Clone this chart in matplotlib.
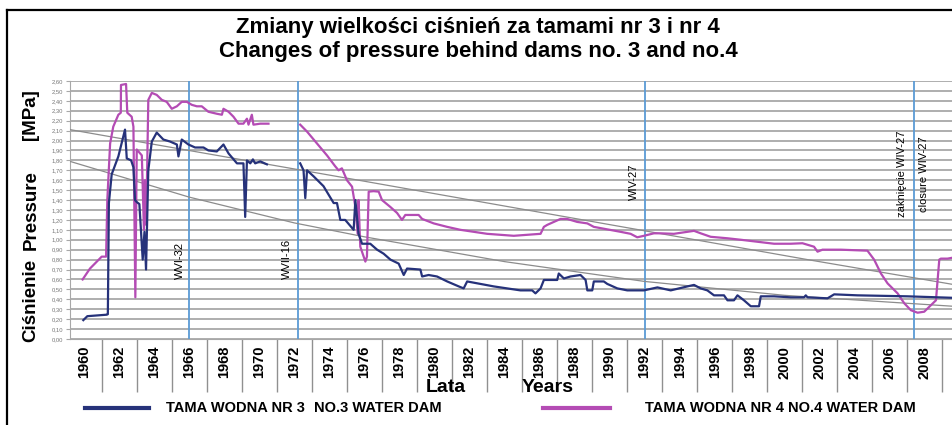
import numpy as np
import matplotlib
matplotlib.use('Agg')
import matplotlib.pyplot as plt
from matplotlib.lines import Line2D

plt.rcParams['font.family'] = ['Liberation Sans', 'DejaVu Sans']

# Tama nr 3 (granatowa) - rok, MPa
dam3_years = [1959.96, 1960.19, 1961.30, 1961.36, 1961.42, 1961.58, 1961.96, 1962.34, 1962.44, 1962.69,
              1962.82, 1962.91, 1963.01, 1963.16, 1963.35, 1963.45, 1963.54, 1963.67, 1963.87, 1964.15,
              1964.53, 1964.91, 1965.30, 1965.39, 1965.58, 1965.96, 1966.34, 1966.82, 1967.10, 1967.58,
              1967.96, 1968.25, 1968.73, 1969.10, 1969.20, 1969.30, 1969.49, 1969.64, 1969.77, 1970.06,
              1970.44,
              1971.4,
              1972.34, 1972.53, 1972.63, 1972.73, 1973.10, 1973.67, 1974.25, 1974.44, 1974.63, 1974.91,
              1975.20, 1975.39, 1975.49, 1975.67, 1975.87, 1976.34, 1976.73, 1977.10, 1977.49, 1977.96,
              1978.25, 1978.44, 1979.20, 1979.30, 1979.67, 1980.15, 1980.73, 1981.39, 1981.67, 1981.87,
              1982.63, 1983.39, 1984.15, 1984.91, 1985.58, 1985.77, 1986.06, 1986.25, 1987.01, 1987.10,
              1987.39, 1987.77, 1988.34, 1988.63, 1988.73, 1989.01, 1989.10, 1989.67, 1989.87, 1990.44,
              1991.01, 1991.96, 1992.73, 1993.49, 1994.44, 1994.82, 1995.20, 1995.58, 1995.96, 1996.53,
              1996.73, 1997.10, 1997.30, 1997.67, 1998.06, 1998.53, 1998.63, 1999.39, 2000.34, 2001.10,
              2001.20, 2001.30, 2002.44, 2002.82, 2004.15, 2007.01, 2009.60]
dam3_values = [0.19, 0.23, 0.245, 0.25, 1.37, 1.66, 1.84, 2.11, 1.82, 1.80,
               1.73, 1.40, 1.38, 1.36, 0.80, 1.08, 0.70, 1.70, 1.99, 2.08,
               2.01, 1.99, 1.96, 1.84, 2.01, 1.96, 1.93, 1.93, 1.90, 1.89,
               1.96, 1.87, 1.77, 1.77, 1.23, 1.80, 1.77, 1.81, 1.77, 1.79,
               1.76,
               np.nan,
               1.77, 1.70, 1.42, 1.70, 1.64, 1.54, 1.37, 1.37, 1.20, 1.20,
               1.14, 1.10, 1.40, 1.06, 0.96, 0.96, 0.90, 0.86, 0.80, 0.76,
               0.645, 0.71, 0.70, 0.63, 0.645, 0.63, 0.58, 0.53, 0.51, 0.58,
               0.555, 0.53, 0.51, 0.49, 0.49, 0.46, 0.51, 0.595, 0.595, 0.66,
               0.61, 0.63, 0.645, 0.595, 0.49, 0.49, 0.58, 0.58, 0.555, 0.51,
               0.49, 0.49, 0.52, 0.49, 0.53, 0.545, 0.51, 0.49, 0.44, 0.44,
               0.39, 0.39, 0.44, 0.39, 0.33, 0.33, 0.43, 0.43, 0.42, 0.42,
               0.44, 0.42, 0.41, 0.45, 0.44, 0.43, 0.415]

# Tama nr 4 (fioletowa)
dam4_years = [1959.92, 1960.34, 1960.73, 1961.01, 1961.26, 1961.33, 1961.49, 1961.67, 1961.96, 1962.10,
              1962.11, 1962.40, 1962.47, 1962.72, 1962.82, 1962.93, 1963.01, 1963.20, 1963.30, 1963.42,
              1963.48, 1963.55, 1963.67, 1963.87, 1964.15, 1964.44, 1964.72, 1965.01, 1965.30, 1965.58,
              1965.87, 1966.15, 1966.44, 1966.72, 1967.10, 1967.58, 1967.87, 1967.96, 1968.25, 1968.53,
              1968.82, 1969.10, 1969.30, 1969.39, 1969.58, 1969.67, 1970.06, 1970.53,
              1971.4,
              1972.34, 1972.73, 1973.30, 1973.87, 1974.34, 1974.53, 1974.72, 1975.01, 1975.30, 1975.49,
              1975.62, 1975.67, 1975.77, 1975.96, 1976.06, 1976.15, 1976.25, 1976.53, 1976.82, 1977.01,
              1977.49, 1977.87, 1978.15, 1978.34, 1979.10, 1979.30, 1979.96, 1980.73, 1981.49, 1982.25,
              1983.01, 1983.77, 1984.53, 1985.30, 1986.06, 1986.25, 1986.44, 1986.82, 1987.20, 1987.58,
              1988.15, 1988.73, 1989.10, 1989.87, 1990.63, 1991.20, 1991.58, 1991.96, 1992.53, 1992.91,
              1993.67, 1994.44, 1994.82, 1995.20, 1995.77, 1996.73, 1997.49, 1998.44, 1999.39, 2000.34,
              2001.01, 2001.67, 2001.87, 2002.15, 2003.20, 2004.72, 2005.10, 2005.49, 2005.87, 2006.44,
              2006.82, 2007.20, 2007.58, 2007.96, 2008.34, 2008.63, 2008.82, 2008.91, 2009.29, 2009.60]
dam4_values = [0.60, 0.71, 0.78, 0.83, 0.83, 1.40, 1.97, 2.14, 2.26, 2.28,
               2.56, 2.57, 2.28, 2.24, 2.14, 0.42, 1.91, 1.87, 1.85, 1.10,
               1.60, 1.15, 2.41, 2.48, 2.46, 2.41, 2.39, 2.32, 2.345, 2.39,
               2.39, 2.36, 2.345, 2.345, 2.29, 2.27, 2.26, 2.32, 2.29, 2.24,
               2.17, 2.17, 2.22, 2.16, 2.26, 2.16, 2.17, 2.17,
               np.nan,
               2.16, 2.09, 1.97, 1.85, 1.74, 1.70, 1.72, 1.60, 1.535, 1.33,
               1.06, 1.40, 0.93, 0.83, 0.78, 0.83, 1.485, 1.49, 1.485, 1.40,
               1.33, 1.27, 1.20, 1.25, 1.25, 1.21, 1.165, 1.13, 1.10, 1.08,
               1.06, 1.05, 1.04, 1.05, 1.06, 1.13, 1.15, 1.18, 1.21, 1.21,
               1.18, 1.165, 1.13, 1.105, 1.08, 1.06, 1.025, 1.04, 1.065, 1.065,
               1.06, 1.08, 1.09, 1.065, 1.03, 1.015, 1.00, 0.98, 0.96, 0.96,
               0.965, 0.93, 0.88, 0.90, 0.90, 0.89, 0.80, 0.66, 0.56, 0.46,
               0.36, 0.29, 0.265, 0.275, 0.34, 0.39, 0.80, 0.81, 0.81, 0.82]

# linie trendu
trend_upper_years = [1959.2, 1976.0, 2001.3, 2009.6]
trend_upper_values = [2.11, 1.59, 0.80, 0.55]
trend_lower_years = [1959.2, 1966.0, 1972.0, 1976.0, 1984.0, 1992.0, 2000.0, 2009.6]
trend_lower_values = [1.79, 1.43, 1.17, 1.03, 0.78, 0.58, 0.44, 0.33]

# zdarzenia (linie pionowe)
event_years = [1966.0, 1972.23, 1992.0, 2007.37]

year_ticks = list(range(1960, 2010, 2))
y_ticks = np.round(np.arange(0, 2.61, 0.1), 2)

navy = '#26327a'
magenta = '#b44cb4'
vblue = '#5b9bd5'

fig = plt.figure(figsize=(9.52, 4.25), dpi=100)
ax = fig.add_axes([70 / 952, 1 - 339 / 425, 1 - 70 / 952 + 0.001, (339 - 81) / 425])

ax.set_ylim(0, 2.6)
ax.set_xlim(1959.2, 2009.6)
ax.set_yticks(y_ticks)
ax.set_yticklabels([('%.2f' % v).replace('.', ',') for v in y_ticks], fontsize=4.2, color='#777777')
ax.yaxis.grid(True, color='#a8a8a8', lw=1.3)
ax.set_axisbelow(True)
ax.tick_params(axis='y', length=3, color='#a8a8a8', pad=2)

ax.set_xticks(year_ticks)
ax.set_xticklabels([str(y) for y in year_ticks], rotation=90, fontsize=10.5, fontweight='bold')
ax.set_xticks(np.arange(1961, 2010, 2), minor=True)
ax.tick_params(axis='x', which='major', length=0, pad=5)
ax.tick_params(axis='x', which='minor', length=38, color='#909090', width=1)

for s in ['top', 'right']:
    ax.spines[s].set_visible(False)
ax.spines['left'].set_color('#a8a8a8')
ax.spines['bottom'].set_color('#a8a8a8')

for ev in event_years:
    ax.axvline(ev, color=vblue, lw=1.3, zorder=2)

ax.plot(trend_upper_years, trend_upper_values, color='#8c8c8c', lw=0.9, zorder=3)
ax.plot(trend_lower_years, trend_lower_values, color='#8c8c8c', lw=0.9, zorder=3)
ax.plot(dam4_years, dam4_values, color=magenta, lw=1.6, zorder=4)
ax.plot(dam3_years, dam3_values, color=navy, lw=1.6, zorder=5)

# opisy linii pionowych
ax.text(1965.5, 0.60, 'WVI-32', rotation=90, fontsize=8, ha='center', va='bottom')
ax.text(1971.6, 0.60, 'WVII-16', rotation=90, fontsize=8, ha='center', va='bottom')
ax.text(1991.4, 1.40, 'WIV-27', rotation=90, fontsize=8, ha='center', va='bottom')
ax.text(2006.7, 1.23, 'zaknięcie WIV-27', rotation=90, fontsize=8, ha='center', va='bottom')
ax.text(2007.95, 1.28, 'closure WIV-27', rotation=90, fontsize=8, ha='center', va='bottom')

# tytuł
fig.text(478 / 952, 1 - 27 / 425, 'Zmiany wielkości ciśnień za tamami nr 3 i nr 4',
         ha='center', va='center', fontsize=16, fontweight='bold')
fig.text(478 / 952, 1 - 51 / 425, 'Changes of pressure behind dams no. 3 and no.4',
         ha='center', va='center', fontsize=16, fontweight='bold')

# opis osi Y
fig.text(31 / 952, 1 - 300 / 425, 'Ciśnienie', rotation=90, ha='center', va='center',
         fontsize=13.5, fontweight='bold')
fig.text(31 / 952, 1 - 210 / 425, 'Pressure', rotation=90, ha='center', va='center',
         fontsize=13.5, fontweight='bold')
fig.text(31 / 952, 1 - 115 / 425, '[MPa]', rotation=90, ha='center', va='center',
         fontsize=13.5, fontweight='bold')

# opis osi X
fig.text(446 / 952, 1 - 387 / 425, 'Lata', ha='center', va='center', fontsize=14,
         fontweight='bold')
fig.text(548 / 952, 1 - 387 / 425, 'Years', ha='center', va='center', fontsize=14,
         fontweight='bold')

# legenda
ly = 1 - 408 / 425
fig.add_artist(Line2D([85 / 952, 149 / 952], [ly, ly], color=navy, lw=3))
fig.add_artist(Line2D([543 / 952, 610 / 952], [ly, ly], color=magenta, lw=3))
leg_kw = dict(ha='left', va='center', fontsize=10.5, fontweight='bold')
fig.text(166 / 952, ly, 'TAMA WODNA NR 3', **leg_kw)
fig.text(314 / 952, ly, 'NO.3 WATER DAM', **leg_kw)
fig.text(645 / 952, ly, 'TAMA WODNA NR 4', **leg_kw)
fig.text(788 / 952, ly, 'NO.4 WATER DAM', **leg_kw)

# ramka
fig.add_artist(Line2D([7 / 952, 1.0], [1 - 10 / 425, 1 - 10 / 425], color='black', lw=1.6))
fig.add_artist(Line2D([7 / 952, 7 / 952], [0, 1 - 10 / 425], color='black', lw=1.6))

fig.savefig('out.png', dpi=100)
plt.close(fig)
